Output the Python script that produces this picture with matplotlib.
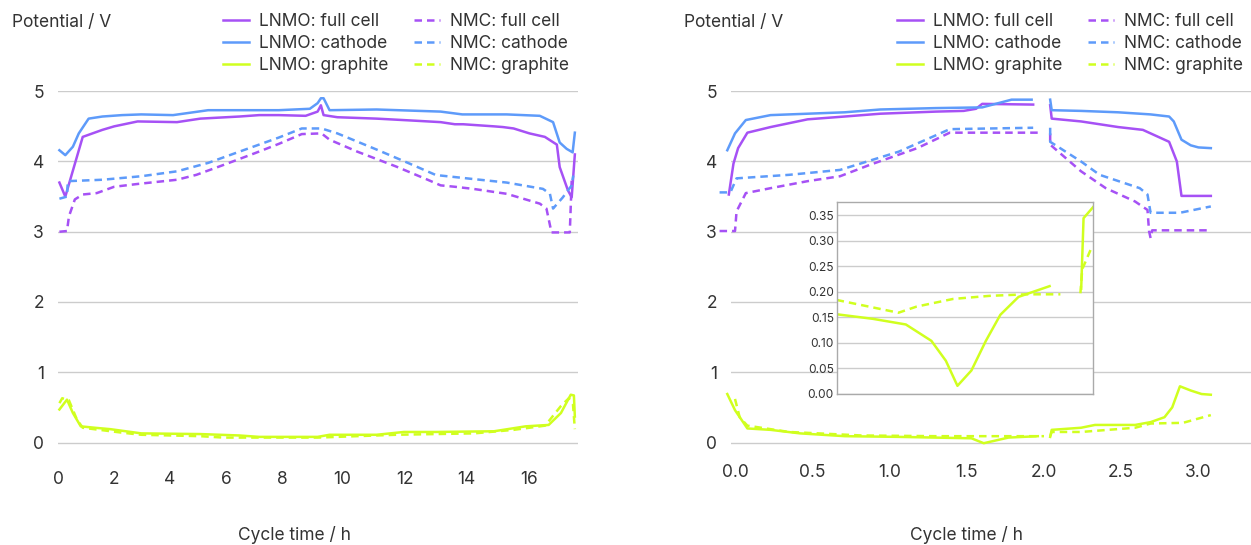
import numpy as np
import matplotlib
matplotlib.use("Agg")
import matplotlib.pyplot as plt

plt.rcParams['font.family'] = ['Inter', 'DejaVu Sans']

nan = np.nan

# ---- left panel: full cycle (h, V) ----
l_full_x = [0.05, 0.26, 0.88, 1.58, 2.00, 2.84, 4.25, 5.08, 6.47, 7.17, 7.86, 8.77, 9.17, 9.28, 9.37,
            9.83, 11.10, 12.36, 13.17, 13.63, 13.90, 14.88, 15.16, 15.50, 16.00, 16.49, 16.87, 16.96,
            17.22, 17.34, 17.44]
l_full_y = [3.70, 3.50, 4.35, 4.45, 4.50, 4.57, 4.56, 4.61, 4.64, 4.66, 4.66, 4.65, 4.71, 4.80, 4.66,
            4.63, 4.61, 4.58, 4.56, 4.53, 4.53, 4.50, 4.49, 4.47, 4.40, 4.35, 4.24, 3.92,
            3.59, 3.49, 4.10]

l_cath_x = [0.05, 0.26, 0.53, 0.74, 1.09, 1.58, 2.28, 2.97, 4.11, 5.36, 7.86, 8.91, 9.17, 9.28, 9.37,
            9.57, 11.10, 13.17, 13.87, 14.88, 15.28, 16.33, 16.75, 16.96, 17.18, 17.37, 17.44]
l_cath_y = [4.16, 4.09, 4.21, 4.40, 4.61, 4.64, 4.66, 4.67, 4.66, 4.73, 4.73, 4.75, 4.83, 4.90, 4.90,
            4.73, 4.74, 4.71, 4.67, 4.67, 4.67, 4.65, 4.56, 4.27, 4.18, 4.13, 4.41]

l_graph_x = [0.05, 0.32, 0.53, 0.81, 1.31, 1.86, 2.97, 5.08, 6.47, 7.17, 9.17, 9.57, 11.10, 11.98,
             13.00, 14.88, 15.88, 16.61, 17.00, 17.31, 17.41, 17.44]
l_graph_y = [0.47, 0.61, 0.42, 0.23, 0.21, 0.19, 0.13, 0.12, 0.10, 0.08, 0.08, 0.11, 0.11, 0.15,
             0.15, 0.16, 0.23, 0.25, 0.42, 0.68, 0.67, 0.37]

n_full_x = [0.05, 0.32, 0.39, 0.60, 0.88, 1.38, 2.00, 2.84, 4.25, 4.94, 5.90, 7.03, 7.86, 8.64, 9.30,
            9.57, 10.48, 11.72, 12.75, 13.17, 13.63, 14.22, 15.28, 16.33, 16.54, 16.70, 17.28, 17.34]
n_full_y = [3.00, 3.01, 3.22, 3.46, 3.53, 3.55, 3.64, 3.68, 3.74, 3.81, 3.95, 4.12, 4.25, 4.39, 4.40,
            4.31, 4.14, 3.93, 3.74, 3.66, 3.64, 3.61, 3.54, 3.40, 3.33, 2.99, 2.99, 3.73]

n_cath_x = [0.05, 0.32, 0.35, 1.58, 2.97, 4.25, 5.36, 6.47, 7.86, 8.64, 9.30, 9.83, 11.10, 12.11,
            13.00, 13.17, 14.22, 15.28, 16.43, 16.65, 16.75, 17.06, 17.34, 17.39]
n_cath_y = [3.47, 3.50, 3.72, 3.74, 3.79, 3.86, 3.98, 4.14, 4.34, 4.47, 4.47, 4.40, 4.17, 3.98,
            3.81, 3.80, 3.75, 3.70, 3.61, 3.54, 3.33, 3.49, 3.66, 3.80]

n_graph_x = [0.05, 0.15, 0.39, 0.67, 0.88, 2.28, 2.97, 5.08, 5.90, 9.17, 11.72, 14.25, 15.50, 16.50,
             17.00, 17.25, 17.38, 17.44]
n_graph_y = [0.56, 0.63, 0.60, 0.33, 0.21, 0.14, 0.11, 0.09, 0.07, 0.07, 0.11, 0.13, 0.18, 0.24,
             0.52, 0.63, 0.55, 0.19]

# ---- right panel: short cycle (h, V) ----
r_full_x = [-0.04, -0.01, 0.02, 0.08, 0.23, 0.47, 0.71, 0.94, 1.30, 1.48, 1.56, 1.60, 1.93, nan,
            2.04, 2.05, 2.24, 2.48, 2.64, 2.81, 2.86, 2.89, 3.08]
r_full_y = [3.53, 3.97, 4.19, 4.41, 4.49, 4.60, 4.64, 4.68, 4.71, 4.72, 4.75, 4.82, 4.81, nan,
            4.80, 4.61, 4.57, 4.49, 4.45, 4.28, 4.00, 3.51, 3.51]

r_cath_x = [-0.05, 0.00, 0.07, 0.23, 0.47, 0.71, 0.94, 1.30, 1.60, 1.79, 1.92, nan,
            2.04, 2.05, 2.24, 2.48, 2.69, 2.81, 2.84, 2.89, 2.95, 3.00, 3.08]
r_cath_y = [4.16, 4.40, 4.59, 4.66, 4.68, 4.70, 4.74, 4.76, 4.77, 4.88, 4.88, nan,
            4.88, 4.73, 4.72, 4.70, 4.67, 4.64, 4.57, 4.31, 4.23, 4.20, 4.19]

r_graph_x = [-0.05, 0.00, 0.08, 0.23, 0.42, 0.71, 1.06, 1.53, 1.61, 1.77, 1.96, nan,
             2.04, 2.05, 2.24, 2.33, 2.59, 2.69, 2.78, 2.83, 2.88, 2.95, 3.02, 3.08]
r_graph_y = [0.69, 0.46, 0.20, 0.18, 0.13, 0.09, 0.08, 0.06, -0.01, 0.07, 0.09, nan,
             0.08, 0.18, 0.21, 0.25, 0.25, 0.29, 0.36, 0.50, 0.80, 0.74, 0.69, 0.68]

rn_full_x = [-0.10, 0.00, 0.01, 0.07, 0.23, 0.47, 0.68, 0.87, 1.18, 1.39, 1.96, nan,
             2.04, 2.04, 2.24, 2.40, 2.59, 2.67, 2.68, 2.69, 2.70, 3.08]
rn_full_y = [3.01, 3.01, 3.29, 3.55, 3.62, 3.72, 3.79, 3.95, 4.19, 4.41, 4.41, nan,
             4.40, 4.24, 3.86, 3.62, 3.43, 3.31, 3.01, 2.91, 3.02, 3.02]

rn_cath_x = [-0.10, -0.03, 0.01, 0.35, 0.68, 1.06, 1.39, 1.93, nan,
             2.04, 2.04, 2.24, 2.36, 2.62, 2.67, 2.69, 2.88, 3.08]
rn_cath_y = [3.56, 3.56, 3.76, 3.81, 3.88, 4.14, 4.46, 4.48, nan,
             4.48, 4.28, 4.00, 3.81, 3.62, 3.53, 3.27, 3.27, 3.36]

rn_graph_x = [0.00, 0.03, 0.08, 0.35, 0.82, 1.30, 1.77, 2.00, nan,
              2.04, 2.05, 2.24, 2.59, 2.69, 2.90, 3.08]
rn_graph_y = [0.62, 0.36, 0.24, 0.15, 0.10, 0.09, 0.09, 0.09, nan,
              0.09, 0.15, 0.15, 0.21, 0.27, 0.28, 0.39]

# ---- inset: graphite detail ----
in_lnmo_x = [1.150, 1.288, 1.413, 1.510, 1.565, 1.609, 1.662, 1.717, 1.772, 1.841, 1.959, nan,
             2.079, 2.088, 2.125]
in_lnmo_y = [0.156, 0.147, 0.136, 0.104, 0.065, 0.016, 0.046, 0.104, 0.155, 0.190, 0.211, nan,
             0.206, 0.344, 0.366]
in_nmc_x = [1.150, 1.385, 1.454, 1.593, 1.731, 1.870, 2.000, nan, 2.076, 2.083, 2.118]
in_nmc_y = [0.184, 0.159, 0.171, 0.186, 0.192, 0.195, 0.195, nan, 0.197, 0.244, 0.286]

labels = ["LNMO: full cell", "LNMO: cathode", "LNMO: graphite",
          "NMC: full cell", "NMC: cathode", "NMC: graphite"]

PURPLE = "#A651F5"
BLUE = "#5E9BFA"
LIME = "#D0FF1F"
TXT = "#333333"
GRID = "#cccccc"
LW = 1.8
DASH = (0, (3, 2))
FS = 12.5

# uneven spacing of the left time axis in the original
warp_h = [-2, 0, 2, 4, 6, 8, 10, 12, 14, 16, 20]
warp_px = [-56.7, 0, 56.7, 113, 169.7, 226.7, 287, 349.7, 412, 475.7, 603.1]


def fwd(x):
    return np.interp(x, warp_h, warp_px)


def inv(p):
    return np.interp(p, warp_px, warp_h)


fig = plt.figure(figsize=(12.51, 5.45), dpi=100)
axL = fig.add_axes([58 / 1251, 0.1494, 520 / 1251, 0.6845])
axR = fig.add_axes([731 / 1251, 0.1494, 520 / 1251, 0.6845])

axL.set_xscale('function', functions=(fwd, inv))

left_series = [(l_full_x, l_full_y), (l_cath_x, l_cath_y), (l_graph_x, l_graph_y),
               (n_full_x, n_full_y), (n_cath_x, n_cath_y), (n_graph_x, n_graph_y)]
right_series = [(r_full_x, r_full_y), (r_cath_x, r_cath_y), (r_graph_x, r_graph_y),
                (rn_full_x, rn_full_y), (rn_cath_x, rn_cath_y), (rn_graph_x, rn_graph_y)]
colors = [PURPLE, BLUE, LIME, PURPLE, BLUE, LIME]
styles = ['-', '-', '-', DASH, DASH, DASH]

for ax, series in [(axL, left_series), (axR, right_series)]:
    for (x, y), c, ls, lab in zip(series, colors, styles, labels):
        ax.plot(x, y, color=c, lw=LW, ls=ls, label=lab, clip_on=False, zorder=3)
    ax.set_ylim(-0.3, 5.01)
    ax.set_yticks([0, 1, 2, 3, 4, 5])
    for s in ax.spines.values():
        s.set_visible(False)
    ax.yaxis.grid(True, color=GRID, lw=1)
    ax.set_axisbelow(True)
    ax.tick_params(length=0, labelsize=FS, labelcolor=TXT)
    ax.tick_params(axis='y', pad=10)

axL.set_xlim(0.14, 17.54)
axL.set_xticks([0, 2, 4, 6, 8, 10, 12, 14, 16])
axL.set_xticklabels(['0', '2', '4', '6', '8', '10', '12', '14', '16'])
axL.tick_params(axis='x', pad=5.5)

axR.set_xlim(-0.026, 3.34)
axR.set_xticks([0, 0.5, 1, 1.5, 2, 2.5, 3])
axR.set_xticklabels(['0.0', '0.5', '1.0', '1.5', '2.0', '2.5', '3.0'])
axR.tick_params(axis='x', pad=0.5)

# legends
for ax, lx in [(axL, 223 / 1251), (axR, 897 / 1251)]:
    ax.legend(loc='upper left', bbox_to_anchor=(lx, 0.976), bbox_transform=fig.transFigure,
              ncol=2, frameon=False, fontsize=FS, handlelength=1.5, handletextpad=0.55,
              columnspacing=1.5, labelspacing=0.3, borderpad=0, borderaxespad=0,
              labelcolor=TXT)

for xpix in [12, 684]:
    fig.text(xpix / 1251, 1 - 22.3 / 545, "Potential / V", ha='left', va='center',
             fontsize=FS, color=TXT)
for xpix in [295, 967]:
    fig.text(xpix / 1251, 1 - 535 / 545, "Cycle time / h", ha='center', va='center',
             fontsize=FS, color=TXT)

# inset
axI = fig.add_axes([836.6 / 1251, 1 - 394 / 545, 256.7 / 1251, 191.7 / 545], zorder=5)
axI.set_facecolor('white')
axI.plot(in_lnmo_x, in_lnmo_y, color=LIME, lw=LW)
axI.plot(in_nmc_x, in_nmc_y, color=LIME, lw=LW, ls=DASH)
axI.set_xlim(1.15, 2.125)
axI.set_ylim(0, 0.375)
axI.set_yticks(np.arange(0, 0.36, 0.05))
axI.set_yticklabels(['0.00', '0.05', '0.10', '0.15', '0.20', '0.25', '0.30', '0.35'])
axI.set_xticks([])
axI.yaxis.grid(True, color=GRID, lw=1)
axI.set_axisbelow(True)
axI.tick_params(length=0, labelsize=8.6, labelcolor=TXT, pad=2)
for s in axI.spines.values():
    s.set_color('#aaaaaa')
    s.set_linewidth(1)

fig.savefig("out.png", dpi=100)
